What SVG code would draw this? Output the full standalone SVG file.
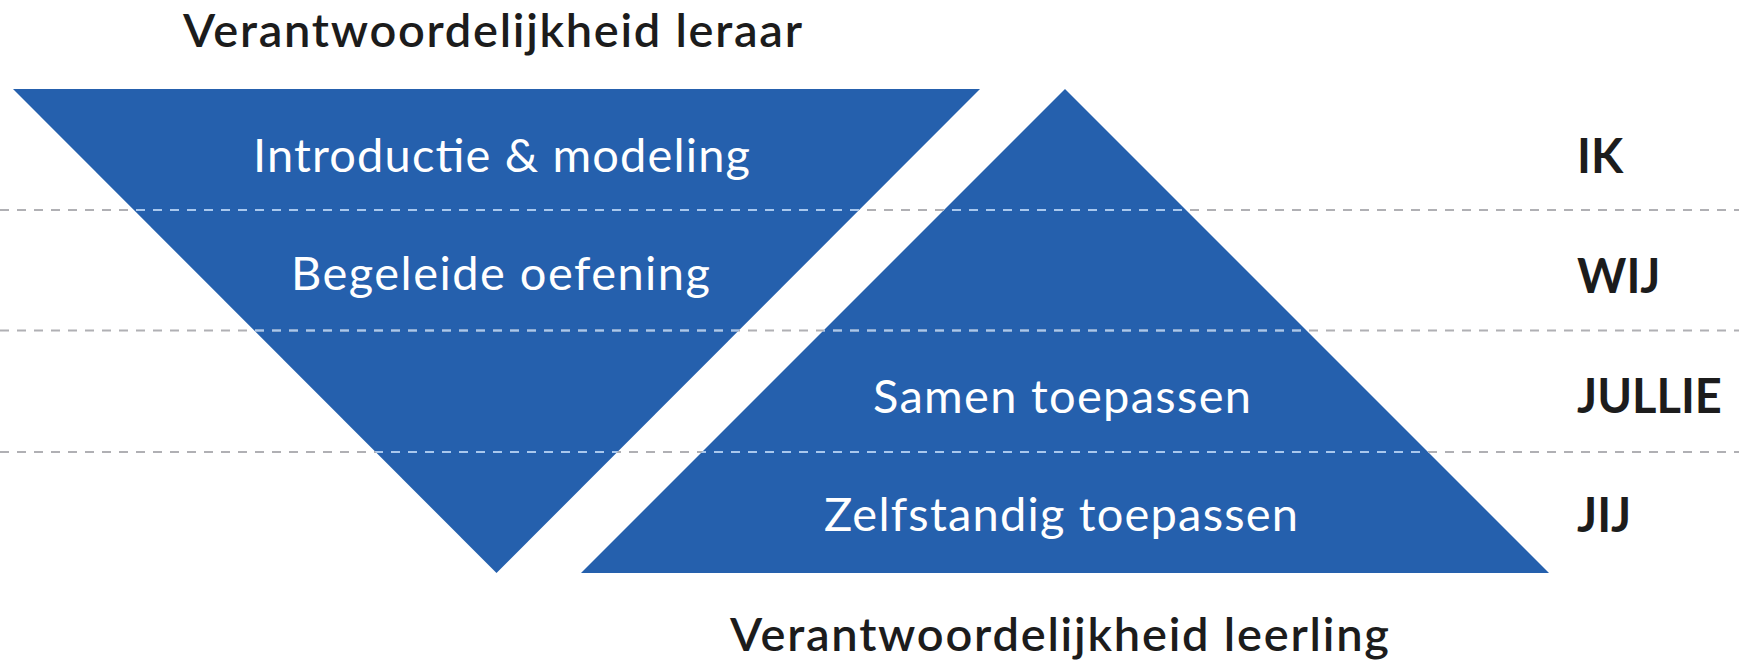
<svg xmlns="http://www.w3.org/2000/svg" width="1739" height="662" viewBox="0 0 1739 662">
<style>
.tri{fill:#2560ad}
.head{font-family:Lato,"Liberation Sans",sans-serif;font-weight:600;font-size:47px;fill:#1c1c1c}
.in{font-family:Lato,"Liberation Sans",sans-serif;font-weight:400;font-size:47px;fill:#ffffff}
.lab{font-family:Lato,"Liberation Sans",sans-serif;font-weight:700;font-size:47px;fill:#1c1c1c}
.dg{stroke:#b0b0b4;stroke-width:2;stroke-dasharray:9 8;fill:none}
.db{stroke:#a9c8ee;stroke-width:2;stroke-dasharray:9 8;fill:none}
</style>
<defs>
<clipPath id="triclip">
<polygon points="13,89 980,89 496.5,573"/>
<polygon points="1065,89 581,573 1549,573"/>
</clipPath>
</defs>
<rect width="1739" height="662" fill="#ffffff"/>
<g id="teacher-triangle">
<polygon class="tri" points="13,89 980,89 496.5,573"/>
<text class="in" x="253" y="172" textLength="497" lengthAdjust="spacing">Introductie &amp; modeling</text>
<text class="in" x="291" y="290" textLength="419" lengthAdjust="spacing">Begeleide oefening</text>
</g>
<g id="student-triangle">
<polygon class="tri" points="1065,89 581,573 1549,573"/>
<text class="in" x="873" y="413" textLength="378" lengthAdjust="spacing">Samen toepassen</text>
<text class="in" x="824" y="531" textLength="474" lengthAdjust="spacing">Zelfstandig toepassen</text>
</g>
<g id="dividers">
<path class="dg" d="M0,210H1739M0,330.5H1739M0,452H1739"/>
<path class="db" clip-path="url(#triclip)" d="M0,210H1739M0,330.5H1739M0,452H1739"/>
</g>
<g id="heading-teacher"><text class="head" x="183" y="47" textLength="619" lengthAdjust="spacing">Verantwoordelijkheid leraar</text></g>
<g id="heading-student"><text class="head" x="730" y="651" textLength="659" lengthAdjust="spacing">Verantwoordelijkheid leerling</text></g>
<g id="labels">
<text class="lab" x="1577" y="173">IK</text>
<text class="lab" x="1577" y="293">WIJ</text>
<text class="lab" x="1577" y="413">JULLIE</text>
<text class="lab" x="1577" y="532">JIJ</text>
</g>
</svg>
